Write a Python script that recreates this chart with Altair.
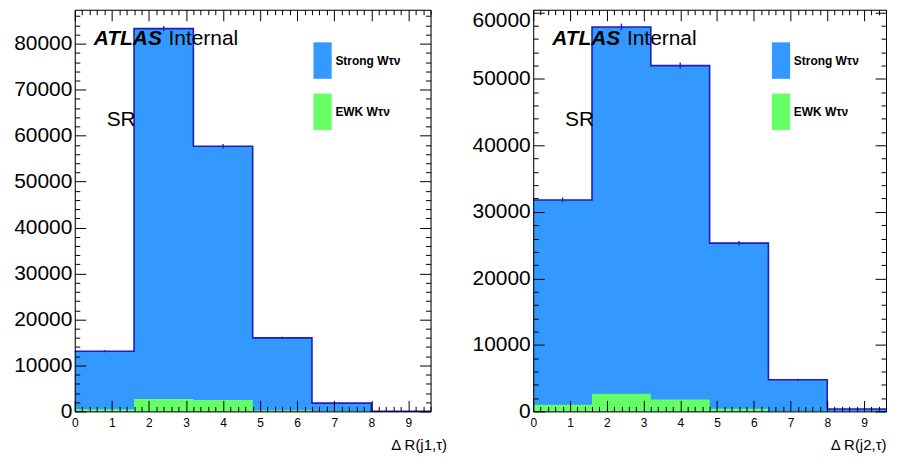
import altair as alt
import pandas as pd

# ---------------- data ----------------
edges = [0.0, 1.6, 3.2, 4.8, 6.4, 8.0, 9.6]
series_names = ["Strong Wτν", "EWK Wτν"]
series_colors = ["#3399ff", "#66ff66"]
outline_color = "#1c1cc8"

left_strong = [13100, 83300, 57700, 16000, 1800, 40]
left_ewk = [450, 2700, 2500, 250, 60, 0]
left_err = [250, 550, 480, 250, 90, 15]

right_strong = [31800, 57800, 52000, 25300, 4750, 350]
right_ewk = [1000, 2650, 1780, 380, 60, 0]
right_err = [380, 520, 480, 340, 150, 40]

x_label_values = list(range(0, 10))
x_tick_values = [round(i * 0.2, 1) for i in range(0, 49)]
left_y_labels = list(range(0, 80001, 10000))
left_y_ticks = list(range(0, 86001, 2000))
right_y_labels = list(range(0, 50001, 10000))
right_y_top_label = [60000]
right_y_ticks = list(range(0, 60001, 2000))
left_ymax = 87400
right_ymax = 60400
x_titles = ["Δ R(j1,τ)", "Δ R(j2,τ)"]

W_LEFT, W_RIGHT, H = 357, 354, 403
FONT = "Liberation Sans"


def tick_axis(orient, offset, values, major_test, show_domain):
    return alt.Axis(
        orient=orient, offset=offset, values=values, labels=False, title=None,
        grid=False, domain=show_domain, domainColor="black", domainWidth=1,
        ticks=True, tickColor="black", tickWidth=1,
        tickSize={"condition": {"test": major_test, "value": 11}, "value": 5},
        zindex=1,
    )


def y_label_axis(values, label_offset=0, domain=True):
    return alt.Axis(
        orient="left", values=values, format="d", labelFont=FONT,
        labelFontSize=21, labelPadding=3, labelColor="black", labelFlush=False,
        labelOverlap=False, labelOffset=label_offset, ticks=False, tickSize=0,
        grid=False, domain=domain, domainColor="black", domainWidth=1, title=None,
        minExtent=66, maxExtent=66, zindex=1,
    )


def panel(strong, ewk, err, ymax, ylabels, yticks, xtitle, W, title_x, top_labels):
    lo = edges[:-1]
    hi = edges[1:]
    mid = [(a + b) / 2 for a, b in zip(lo, hi)]
    df_s = pd.DataFrame({"edge": edges, "val": strong + [strong[-1]],
                         "series": series_names[0]})
    df_e = pd.DataFrame({"edge": edges, "val": ewk + [ewk[-1]],
                         "series": series_names[1]})
    df_err = pd.DataFrame({
        "mid": mid,
        "low": [v - e for v, e in zip(strong, err)],
        "high": [v + e for v, e in zip(strong, err)],
    })

    xs = alt.Scale(domain=[0, 9.6], nice=False, zero=False)
    ys = alt.Scale(domain=[0, ymax], nice=False, zero=True)

    legend = alt.Legend(
        orient="none", legendX=221, legendY=32.5, title=None,
        symbolType="M0,-1H1V1H0Z", symbolSize=1340, symbolStrokeWidth=0,
        symbolOpacity=1, labelFont=FONT, labelFontSize=12, labelFontWeight="bold",
        labelColor="black", labelOffset=3.5, rowPadding=14.4, padding=0,
        direction="vertical", labelLimit=300,
    )
    color = alt.Color("series:N",
                      scale=alt.Scale(domain=series_names, range=series_colors),
                      legend=legend)

    x_label_axis = alt.Axis(
        orient="bottom", values=x_label_values, format="d", labelFont=FONT,
        labelFontSize=12, labelPadding=6, labelColor="black", labelFlush=False,
        labelOverlap=False, ticks=False, tickSize=0, grid=False, domain=True,
        domainColor="black", domainWidth=1, title=xtitle, titleFont=FONT,
        titleFontSize=15, titleFontWeight="normal", titleColor="black",
        titleAnchor="end", titleAlign="right", titleBaseline="middle",
        titleX=title_x, titleY=33, zindex=1,
    )

    blue = alt.Chart(df_s).mark_area(interpolate="step-after", strokeWidth=0).encode(
        x=alt.X("edge:Q", scale=xs, axis=x_label_axis),
        y=alt.Y("val:Q", scale=ys, axis=y_label_axis(ylabels)),
        y2=alt.datum(0),
        color=color,
    )
    green = alt.Chart(df_e).mark_area(interpolate="step-after", strokeWidth=0).encode(
        x=alt.X("edge:Q", scale=xs,
                axis=tick_axis("top", -H, x_tick_values, "datum.value % 1 === 0", False)),
        y=alt.Y("val:Q", scale=ys,
                axis=tick_axis("right", -W, yticks, "datum.value % 10000 === 0", False)),
        y2=alt.datum(0),
        color=color,
    )
    line = alt.Chart(df_s).mark_line(
        interpolate="step-after", color=outline_color, strokeWidth=1.6
    ).encode(
        x=alt.X("edge:Q", scale=xs,
                axis=tick_axis("bottom", -H, x_tick_values, "datum.value % 1 === 0", True)),
        y=alt.Y("val:Q", scale=ys,
                axis=tick_axis("left", -W, yticks, "datum.value % 10000 === 0", True)),
    )
    if top_labels:
        err_y_axis = y_label_axis(top_labels, label_offset=8, domain=False)
    else:
        err_y_axis = None
    errs = alt.Chart(df_err).mark_rule(color=outline_color, strokeWidth=1.3).encode(
        x=alt.X("mid:Q", scale=xs, axis=None),
        y=alt.Y("low:Q", scale=ys, axis=err_y_axis),
        y2="high:Q",
    )

    def txt(text, x, y, **kw):
        return alt.Chart(alt.Data(values=[{}])).mark_text(
            text=text, align="left", baseline="alphabetic", font=FONT,
            fontSize=21, color="black", **kw
        ).encode(x=alt.value(x), y=alt.value(y))

    atlas = txt("ATLAS", 19, 35, fontWeight="bold", fontStyle="italic")
    internal = txt("Internal", 94, 35)
    sr = txt("SR", 32, 117)

    return alt.layer(blue, green, line, errs, atlas, internal, sr).resolve_axis(
        x="independent", y="independent"
    ).properties(width=W, height=H)


left = panel(left_strong, left_ewk, left_err, left_ymax, left_y_labels,
             left_y_ticks, x_titles[0], W_LEFT, W_LEFT + 16, None)
right = panel(right_strong, right_ewk, right_err, right_ymax, right_y_labels,
              right_y_ticks, x_titles[1], W_RIGHT, W_RIGHT, right_y_top_label)

chart = alt.hconcat(
    left, right, spacing=103, bounds="flush",
    padding={"top": 0, "left": 0, "right": 0, "bottom": 0},
).resolve_scale(
    color="independent", x="independent", y="independent"
).resolve_legend(color="independent").configure_view(stroke=None).configure(
    font=FONT
)

chart.save("out.html", embed_options={"renderer": "svg", "actions": False})
